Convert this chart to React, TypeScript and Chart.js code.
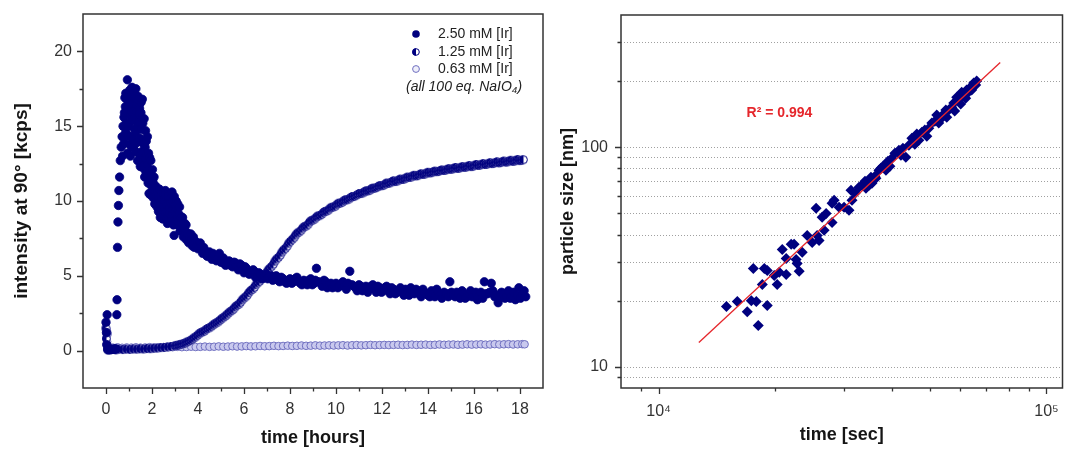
import React, { useEffect, useRef } from 'react';
import { Chart, registerables } from 'chart.js';

Chart.register(...registerables);

const FONT = "'Liberation Sans', Arial, Helvetica, sans-serif";
const NAVY = '#00007f';
const LAVENDER = '#7070c0';
const RED = '#e5262b';
const AXIS = '#333333';

// ---------- left panel: time [hours] vs intensity at 90° [kcps] ----------
const series250: [number, number][] = [
  [0.0, 1.9], [0.02, 1.2], [0.03, 0.4], [0.05, 2.4], [0.07, 0.1], [0.1, 0.05], [0.15, 0.1], [0.2, 0.05],
  [0.25, 0.1], [0.3, 0.08], [0.35, 0.1], [0.4, 0.12], [0.45, 0.1],
  [0.47, 2.4], [0.48, 3.4], [0.5, 6.9], [0.52, 8.6], [0.54, 9.7], [0.56, 10.7], [0.59, 11.6], [0.62, 12.7],
  [0.66, 13.6], [0.7, 14.3], [0.74, 15.0], [0.78, 15.6], [0.84, 16.3], [0.88, 15.2], [0.9, 16.8], [0.93, 18.1],
  [0.96, 17.0], [0.98, 15.0], [1.0, 16.4], [1.03, 17.4], [1.07, 14.3], [1.1, 16.0], [1.13, 17.6], [1.17, 15.4],
  [1.2, 16.9], [1.24, 14.8], [1.27, 16.2], [1.3, 17.5], [1.34, 13.9], [1.37, 12.7], [1.4, 16.8], [1.44, 15.3],
  [1.48, 14.2], [1.52, 15.9], [1.55, 13.3], [1.58, 16.8], [1.62, 12.2], [1.66, 15.5], [1.68, 11.6], [1.72, 14.7],
  [1.76, 13.1], [1.8, 14.3], [1.83, 11.2], [1.87, 10.5], [1.9, 12.9], [1.95, 12.7], [1.98, 11.0], [2.02, 12.1],
  [2.06, 10.2], [2.09, 11.6], [2.12, 9.8], [2.16, 11.0], [2.2, 10.0], [2.24, 10.6], [2.28, 9.3], [2.32, 10.8],
  [2.36, 8.9], [2.4, 10.2], [2.44, 9.4], [2.48, 10.5], [2.53, 10.1], [2.57, 9.0], [2.62, 9.8], [2.67, 8.5],
  [2.7, 10.3], [2.75, 9.2], [2.8, 9.9], [2.85, 8.7], [2.9, 10.0], [2.96, 7.7], [2.98, 9.6], [3.03, 8.8],
  [3.08, 9.5], [3.13, 8.4], [3.18, 9.1], [3.22, 8.0], [3.26, 8.3], [3.3, 8.9], [3.36, 7.6], [3.4, 8.2],
  [3.46, 7.9], [3.5, 7.4], [3.55, 7.8], [3.6, 7.2], [3.69, 7.8], [3.75, 7.0], [3.84, 6.9], [3.9, 7.3],
  [4.0, 6.8], [4.1, 7.2], [4.13, 6.9], [4.2, 6.5], [4.3, 6.7], [4.4, 6.3], [4.5, 6.6], [4.6, 6.1],
  [4.7, 6.4], [4.8, 6.0], [4.93, 6.5], [5.0, 5.9], [5.1, 6.2], [5.2, 5.7], [5.35, 6.0], [5.5, 5.6],
  [5.6, 5.9], [5.75, 5.4], [5.9, 5.7], [6.0, 5.2], [6.1, 5.5], [6.23, 5.1], [6.4, 5.4], [6.5, 4.9],
  [6.65, 5.2], [6.8, 4.8], [6.97, 5.1], [7.1, 4.9], [7.25, 4.7], [7.4, 5.0], [7.55, 4.6], [7.7, 4.8],
  [7.85, 4.5], [8.0, 4.8], [8.15, 4.6], [8.3, 4.9], [8.45, 4.5], [8.6, 4.7], [8.75, 4.4], [8.9, 4.8],
  [9.05, 4.5], [9.15, 5.5], [9.25, 4.6], [9.4, 4.3], [9.55, 4.6], [9.7, 4.4], [9.85, 4.2], [10.0, 4.5],
  [10.15, 4.3], [10.3, 4.6], [10.45, 4.1], [10.6, 5.3], [10.7, 4.4], [10.85, 4.2], [11.0, 4.4], [11.15, 4.0],
  [11.3, 4.3], [11.45, 4.1], [11.6, 4.4], [11.75, 3.9], [11.9, 4.2], [12.05, 4.0], [12.2, 4.3], [12.35, 3.8],
  [12.5, 4.1], [12.65, 3.9], [12.8, 4.2], [12.95, 3.7], [13.1, 4.0], [13.25, 4.2], [13.4, 3.8], [13.55, 4.0],
  [13.7, 3.6], [13.85, 3.9], [14.0, 3.7], [14.15, 4.0], [14.3, 3.6], [14.45, 3.9], [14.6, 3.5], [14.8, 3.8],
  [14.95, 4.6], [15.1, 3.7], [15.25, 3.9], [15.4, 3.5], [15.55, 3.8], [15.7, 3.6], [15.85, 4.0], [16.0, 3.7],
  [16.15, 3.4], [16.3, 3.9], [16.45, 4.6], [16.6, 3.8], [16.75, 4.5], [16.9, 3.6], [17.05, 3.2], [17.2, 3.9],
  [17.35, 3.5], [17.5, 4.0], [17.65, 3.7], [17.8, 3.4], [17.95, 4.2], [18.1, 3.8], [18.25, 3.6],
  [0.8, 14.2], [0.82, 16.9], [0.86, 14.6], [0.92, 16.0], [0.95, 14.4], [1.01, 13.8], [1.05, 15.7], [1.08, 16.8],
  [1.12, 13.6], [1.15, 16.6], [1.19, 14.1], [1.22, 17.2], [1.26, 15.6], [1.29, 13.3], [1.32, 16.4], [1.36, 15.0],
  [1.39, 17.0], [1.42, 14.0], [1.46, 16.2], [1.5, 13.0], [1.54, 14.8], [1.57, 12.6], [1.6, 15.2], [1.64, 13.8],
  [1.7, 12.9], [1.74, 11.9], [1.78, 12.4], [1.85, 13.2], [1.92, 11.4], [2.0, 10.6], [2.04, 11.3], [2.14, 10.5],
  [2.22, 9.6], [2.3, 9.9], [2.38, 9.8], [2.46, 8.8], [2.55, 9.5], [2.6, 10.4], [2.65, 9.3], [2.72, 8.9],
  [2.78, 9.5], [2.83, 10.2], [2.88, 9.1], [2.93, 8.4], [3.0, 9.2], [3.05, 10.0], [3.1, 8.9], [3.16, 8.6],
  [3.2, 9.6], [3.28, 8.6], [3.33, 8.9], [3.43, 8.5], [3.52, 7.9],
  [0.72, 13.0], [0.76, 13.8], [0.8, 15.9], [0.86, 17.2], [0.94, 13.2], [1.0, 15.2], [1.06, 13.0], [1.1, 17.0],
  [1.16, 14.2], [1.2, 13.6], [1.25, 17.0], [1.3, 14.6], [1.35, 16.0], [1.41, 13.2], [1.45, 15.8], [1.49, 12.3],
  [1.53, 16.6], [1.6, 14.0], [1.65, 12.4], [1.7, 13.6], [1.75, 14.0], [1.8, 12.0], [1.88, 12.0], [1.94, 10.4],
  [2.0, 11.6], [2.08, 10.8], [2.18, 10.3], [2.26, 10.2], [2.34, 9.6], [2.42, 10.6], [2.5, 9.6], [2.58, 10.7],
  [2.64, 8.9], [2.74, 9.8], [2.82, 9.3], [2.87, 10.6], [2.92, 9.4], [2.97, 10.3], [3.02, 9.7], [3.12, 9.8],
  [3.24, 8.8], [3.38, 8.2], [3.48, 8.4], [3.62, 7.6], [3.72, 7.4], [3.8, 7.6], [3.95, 7.0],
  [4.05, 7.0], [4.25, 6.9], [4.35, 6.4], [4.55, 6.3], [4.65, 6.5], [4.75, 6.1], [4.87, 6.2], [5.05, 6.1],
  [5.15, 5.8], [5.27, 5.9], [5.42, 5.7], [5.55, 5.9], [5.68, 5.6], [5.82, 5.8], [5.95, 5.4], [6.05, 5.6],
  [6.17, 5.3], [6.3, 5.2], [6.45, 5.3], [6.58, 5.0], [6.72, 5.1], [6.88, 5.0], [7.03, 4.8], [7.18, 5.0],
  [7.32, 4.8], [7.48, 4.7], [7.62, 4.9], [7.78, 4.6], [7.92, 4.7], [8.08, 4.5], [8.22, 4.8], [8.38, 4.6],
  [8.52, 4.4], [8.68, 4.6], [8.82, 4.7], [8.97, 4.4], [9.1, 4.7], [9.33, 4.5], [9.48, 4.7], [9.62, 4.2],
  [9.78, 4.5], [9.92, 4.4], [10.08, 4.2], [10.22, 4.4], [10.38, 4.3], [10.52, 4.5], [10.78, 4.3], [10.92, 4.0],
  [11.08, 4.3], [11.22, 4.2], [11.38, 3.9], [11.52, 4.3], [11.68, 4.1], [11.82, 4.3], [11.98, 3.9], [12.12, 4.2],
  [12.28, 4.0], [12.42, 4.2], [12.58, 3.8], [12.72, 4.0], [12.88, 3.9], [13.02, 4.1], [13.18, 3.7], [13.32, 3.9],
  [13.48, 4.1], [13.62, 3.8], [13.78, 4.1], [13.92, 3.8], [14.08, 3.6], [14.22, 3.8], [14.38, 4.1], [14.52, 3.7],
  [14.7, 3.9], [14.88, 3.6], [15.02, 3.9], [15.18, 3.6], [15.32, 3.8], [15.48, 4.0], [15.62, 3.5], [15.78, 3.8],
  [15.92, 3.6], [16.08, 3.9], [16.22, 3.6], [16.38, 3.5], [16.52, 3.8], [16.68, 3.9], [16.82, 4.0], [16.98, 3.7],
  [17.12, 3.6], [17.28, 3.8], [17.42, 3.6], [17.58, 3.5], [17.72, 3.9], [17.88, 3.7], [18.02, 3.5], [18.18, 4.0],
];

const series125: [number, number][] = [
  [0.0, 1.5], [0.02, 0.8], [0.04, 1.2], [0.06, 0.35], [0.08, 0.05], [0.15, 0.06], [0.3, 0.08], [0.45, 0.05],
  [0.6, 0.1], [0.75, 0.07], [0.9, 0.1], [1.05, 0.08], [1.2, 0.11], [1.35, 0.1], [1.5, 0.12], [1.65, 0.11],
  [1.8, 0.14], [1.95, 0.13], [2.1, 0.16], [2.25, 0.17], [2.4, 0.2], [2.55, 0.21], [2.7, 0.25], [2.85, 0.27],
  [3.0, 0.32], [3.15, 0.36], [3.3, 0.43], [3.45, 0.5], [3.6, 0.62], [3.75, 0.75], [3.9, 0.92], [4.05, 1.12],
  [4.2, 1.25], [4.35, 1.4], [4.5, 1.52], [4.65, 1.7], [4.8, 1.85], [4.95, 2.02], [5.1, 2.2], [5.25, 2.38],
  [5.4, 2.6], [5.55, 2.78], [5.7, 3.02], [5.85, 3.22], [6.0, 3.5], [6.15, 3.72], [6.3, 4.02], [6.45, 4.22],
  [6.6, 4.52], [6.75, 4.78], [6.9, 5.02], [7.05, 5.38], [7.2, 5.62], [7.35, 5.98], [7.5, 6.22], [7.65, 6.58],
  [7.8, 6.82], [7.95, 7.18], [8.1, 7.42], [8.25, 7.72], [8.4, 7.92], [8.55, 8.18], [8.7, 8.32], [8.85, 8.58],
  [9.0, 8.72], [9.15, 8.92], [9.3, 9.02], [9.45, 9.22], [9.6, 9.32], [9.75, 9.52], [9.9, 9.6], [10.05, 9.78],
  [10.2, 9.86], [10.35, 10.02], [10.5, 10.08], [10.65, 10.24], [10.8, 10.3], [10.95, 10.44], [11.1, 10.5], [11.25, 10.62],
  [11.4, 10.68], [11.55, 10.82], [11.7, 10.86], [11.85, 10.98], [12.0, 11.02], [12.15, 11.14], [12.3, 11.18], [12.45, 11.3],
  [12.6, 11.3], [12.75, 11.42], [12.9, 11.44], [13.05, 11.54], [13.2, 11.58], [13.35, 11.68], [13.5, 11.68], [13.65, 11.78],
  [13.8, 11.78], [13.95, 11.88], [14.1, 11.88], [14.25, 11.96], [14.4, 11.96], [14.55, 12.04], [14.7, 12.04], [14.85, 12.12],
  [15.0, 12.12], [15.15, 12.2], [15.3, 12.18], [15.45, 12.26], [15.6, 12.25], [15.75, 12.33], [15.9, 12.3], [16.05, 12.4],
  [16.2, 12.38], [16.35, 12.46], [16.5, 12.44], [16.65, 12.52], [16.8, 12.5], [16.95, 12.58], [17.1, 12.55], [17.25, 12.63],
  [17.4, 12.6], [17.55, 12.68], [17.7, 12.65], [17.85, 12.73], [18.0, 12.7], [18.15, 12.76],
  [3.08, 0.35], [3.22, 0.4], [3.38, 0.47], [3.52, 0.57], [3.68, 0.68], [3.82, 0.84], [3.98, 1.02], [4.12, 1.2],
  [4.28, 1.3], [4.42, 1.48], [4.58, 1.6], [4.72, 1.78], [4.88, 1.92], [5.02, 2.12], [5.18, 2.3], [5.32, 2.5],
  [5.48, 2.68], [5.62, 2.92], [5.78, 3.1], [5.92, 3.38], [6.08, 3.6], [6.22, 3.88], [6.38, 4.1], [6.52, 4.4],
  [6.68, 4.62], [6.82, 4.92], [6.98, 5.2], [7.12, 5.5], [7.28, 5.78], [7.42, 6.12], [7.58, 6.38], [7.72, 6.72],
  [7.88, 6.98], [8.02, 7.3], [8.18, 7.55], [8.32, 7.85], [8.48, 8.02], [8.62, 8.28], [8.78, 8.42], [8.92, 8.68],
  [9.08, 8.8], [9.22, 9.0], [9.38, 9.1], [9.52, 9.3], [9.68, 9.4], [9.82, 9.58], [9.98, 9.66], [10.12, 9.85],
  [10.28, 9.92], [10.42, 10.08], [10.58, 10.14], [10.72, 10.3], [10.88, 10.36], [11.02, 10.5], [11.18, 10.54], [11.32, 10.68],
  [11.48, 10.72], [11.62, 10.86], [11.78, 10.9], [11.92, 11.03], [12.08, 11.05], [12.22, 11.2], [12.38, 11.22], [12.52, 11.35],
  [12.68, 11.34], [12.82, 11.47], [12.98, 11.47], [13.12, 11.6], [13.28, 11.6], [13.42, 11.72], [13.58, 11.7], [13.72, 11.82],
  [13.88, 11.8], [14.02, 11.92], [14.18, 11.9], [14.32, 12.0], [14.48, 11.98], [14.62, 12.08], [14.78, 12.06], [14.92, 12.16],
  [15.08, 12.14], [15.22, 12.24], [15.38, 12.2], [15.52, 12.3], [15.68, 12.27], [15.82, 12.37], [15.98, 12.33], [16.12, 12.44],
  [16.28, 12.4], [16.42, 12.5], [16.58, 12.46], [16.72, 12.56], [16.88, 12.52], [17.02, 12.62], [17.18, 12.57], [17.32, 12.67],
  [17.48, 12.62], [17.62, 12.72], [17.78, 12.67], [17.92, 12.77], [18.08, 12.72],
];

const series063: [number, number][] = [
  [0.0, 1.8], [0.02, 0.9], [0.03, 1.4], [0.05, 0.6], [0.07, 1.1], [0.1, 0.25], [0.3, 0.2], [0.5, 0.22],
  [0.7, 0.19], [0.9, 0.21], [1.1, 0.2], [1.3, 0.22], [1.5, 0.2], [1.7, 0.21], [1.9, 0.23], [2.1, 0.21],
  [2.3, 0.22], [2.5, 0.24], [2.7, 0.22], [2.9, 0.23], [3.1, 0.25], [3.3, 0.23], [3.5, 0.24], [3.7, 0.26],
  [3.9, 0.24], [4.1, 0.25], [4.3, 0.27], [4.5, 0.25], [4.7, 0.26], [4.9, 0.28], [5.1, 0.26], [5.3, 0.27],
  [5.5, 0.29], [5.7, 0.27], [5.9, 0.28], [6.1, 0.3], [6.3, 0.28], [6.5, 0.29], [6.7, 0.31], [6.9, 0.29],
  [7.1, 0.3], [7.3, 0.32], [7.5, 0.3], [7.7, 0.31], [7.9, 0.33], [8.1, 0.31], [8.3, 0.32], [8.5, 0.34],
  [8.7, 0.32], [8.9, 0.33], [9.1, 0.35], [9.3, 0.33], [9.5, 0.34], [9.7, 0.35], [9.9, 0.34], [10.1, 0.35],
  [10.3, 0.36], [10.5, 0.34], [10.7, 0.36], [10.9, 0.37], [11.1, 0.35], [11.3, 0.36], [11.5, 0.38], [11.7, 0.36],
  [11.9, 0.37], [12.1, 0.38], [12.3, 0.37], [12.5, 0.38], [12.7, 0.39], [12.9, 0.37], [13.1, 0.38], [13.3, 0.4],
  [13.5, 0.38], [13.7, 0.39], [13.9, 0.4], [14.1, 0.38], [14.3, 0.39], [14.5, 0.41], [14.7, 0.39], [14.9, 0.4],
  [15.1, 0.41], [15.3, 0.39], [15.5, 0.4], [15.7, 0.42], [15.9, 0.4], [16.1, 0.41], [16.3, 0.42], [16.5, 0.4],
  [16.7, 0.41], [16.9, 0.43], [17.1, 0.41], [17.3, 0.42], [17.5, 0.43], [17.7, 0.41], [17.9, 0.42], [18.1, 0.43],
  [18.2, 0.42],
];

const legendLabels = ['2.50 mM [Ir]', '1.25 mM [Ir]', '0.63 mM [Ir]'];
const legendNote = '(all 100 eq. NaIO\u2084)';
const hourTicks = [0, 2, 4, 6, 8, 10, 12, 14, 16, 18];
const hourMinorTicks = [1, 3, 5, 7, 9, 11, 13, 15, 17];
const kcpsTicks = [0, 5, 10, 15, 20];
const kcpsMinorTicks = [2.5, 7.5, 12.5, 17.5];

// ---------- right panel: time [sec] vs particle size [nm] (log-log) ----------
const particles: [number, number][] = [
  [14960, 18.8], [15960, 19.8], [16930, 17.8], [17340, 20.0], [17860, 19.8], [18070, 15.4], [19060, 19.0],
  [17550, 28.0], [18510, 23.7], [18730, 28.0], [19060, 27.4], [20220, 23.7], [19870, 26.0], [20470, 26.9],
  [21330, 26.3], [23040, 27.2], [20840, 34.2], [21330, 31.1], [21970, 36.1], [22360, 36.1], [22630, 30.8],
  [22760, 29.5], [23460, 33.2], [24160, 39.6], [24890, 36.8], [25630, 39.6], [25480, 52.7], [26400, 47.9],
  [27040, 49.9], [28010, 55.5], [26720, 41.8], [25930, 37.6], [28010, 45.4], [28350, 57.3], [29200, 53.2],
  [30070, 53.2], [30970, 51.6], [31340, 63.6], [31530, 57.3], [32100, 61.7], [32860, 65.7], [33450, 67.1],
  [34060, 69.9], [34240, 65.0], [34870, 67.1], [35280, 73.0], [35490, 68.5], [36130, 73.7], [36340, 72.2],
  [37000, 78.5], [37440, 80.2], [37880, 81.9], [38560, 78.5], [39020, 86.3], [39480, 81.9], [39950, 89.1],
  [40670, 93.9], [41650, 96.9], [42150, 91.9], [42650, 98.9], [43400, 90.0], [44190, 102], [44980, 109.9],
  [45780, 103.2], [46320, 114.7], [46880, 107.6], [47730, 117], [48580, 119.6], [49150, 112.2], [49740, 122.1],
  [50630, 128.7], [51540, 131.4], [52140, 140], [52760, 128.7], [53720, 135.7], [54350, 141.5], [55020, 147.6],
  [55340, 137], [55990, 147.6], [57000, 152], [57670, 158.8], [58010, 146.0], [58700, 169], [59400, 163.9],
  [60100, 157.2], [60460, 178], [61180, 172.8], [61910, 167], [62270, 182], [63030, 178.3], [63780, 188],
  [64160, 182.1], [64920, 196], [65700, 191.9], [66090, 200.2],
];
const fitTime = [12700, 76000];
const fitSize = [12.9, 243];
const r2Text = 'R\u00b2 = 0.994';
const r2Anchor = { x: 20500, y: 143 };
const secTicks = [10000, 100000];
const secTickLabels = ['10\u2074', '10\u2075'];
const secMinorTicks = [9000, 20000, 30000, 40000, 50000, 60000, 70000, 80000, 90000];
const nmTicks = [10, 100];
const nmTickLabels = ['10', '100'];
const nmMinorTicks = [9, 20, 30, 40, 50, 60, 70, 80, 90, 200, 300];
const nmGridLines = [9, 10, 20, 30, 40, 50, 60, 70, 80, 90, 100, 200, 300];

type FrameSpec = { xMajor: number[]; xMinor: number[]; yMajor: number[]; yMinor: number[]; yGrid?: number[] };

function framePlugin(spec: FrameSpec) {
  return {
    id: 'frame',
    beforeDatasetsDraw(chart: any) {
      if (!spec.yGrid) return;
      const { ctx, chartArea: a } = chart;
      const sy = chart.scales.y;
      ctx.save();
      ctx.strokeStyle = '#a0a0a0';
      ctx.lineWidth = 1;
      ctx.setLineDash([1, 2]);
      for (const v of spec.yGrid) {
        const p = Math.round(sy.getPixelForValue(v)) + 0.5;
        ctx.beginPath();
        ctx.moveTo(a.left, p);
        ctx.lineTo(a.right, p);
        ctx.stroke();
      }
      ctx.restore();
    },
    afterDraw(chart: any) {
      const { ctx, chartArea: a } = chart;
      const sx = chart.scales.x;
      const sy = chart.scales.y;
      ctx.save();
      ctx.setLineDash([]);
      ctx.strokeStyle = AXIS;
      ctx.lineWidth = 1.3;
      ctx.beginPath();
      const xt = (vals: number[], len: number) =>
        vals.forEach((v) => {
          const p = Math.round(sx.getPixelForValue(v)) + 0.5;
          ctx.moveTo(p, a.bottom);
          ctx.lineTo(p, a.bottom + len);
        });
      const yt = (vals: number[], len: number) =>
        vals.forEach((v) => {
          const p = Math.round(sy.getPixelForValue(v)) + 0.5;
          ctx.moveTo(a.left, p);
          ctx.lineTo(a.left - len, p);
        });
      xt(spec.xMajor, 6);
      xt(spec.xMinor, 3.5);
      yt(spec.yMajor, 6);
      yt(spec.yMinor, 3.5);
      ctx.stroke();
      ctx.lineWidth = 1.5;
      ctx.strokeRect(a.left, a.top, a.right - a.left, a.bottom - a.top);
      ctx.restore();
    },
  };
}

function makeHalfMarker(r: number) {
  const s = Math.ceil(2 * r + 2);
  const c = document.createElement('canvas');
  c.width = s;
  c.height = s;
  const g = c.getContext('2d')!;
  const m = s / 2;
  g.fillStyle = '#ffffff';
  g.beginPath();
  g.arc(m, m, r, 0, Math.PI * 2);
  g.fill();
  g.fillStyle = NAVY;
  g.beginPath();
  g.moveTo(m, m);
  g.arc(m, m, r, Math.PI / 2, Math.PI * 1.5);
  g.closePath();
  g.fill();
  g.strokeStyle = NAVY;
  g.lineWidth = 1;
  g.beginPath();
  g.arc(m, m, r - 0.5, 0, Math.PI * 2);
  g.stroke();
  return c;
}

const byTime = (pts: [number, number][]) => pts.slice().sort((p, q) => p[0] - q[0]).map(([x, y]) => ({ x, y }));

const tickFont = { family: FONT, size: 16 };

function titleOpt(text: string, size: number, padding: any) {
  return {
    display: true,
    text,
    color: '#151515',
    font: { family: FONT, size, weight: 'bold' as const, lineHeight: 1 },
    padding,
  };
}

export default function App() {
  const leftRef = useRef<HTMLCanvasElement>(null);
  const rightRef = useRef<HTMLCanvasElement>(null);

  useEffect(() => {
    const half = makeHalfMarker(4.4);
    const halfLegend = makeHalfMarker(3.8);

    const legendPlugin = {
      id: 'legendBox',
      afterDatasetsDraw(chart: any) {
        const { ctx, chartArea: a } = chart;
        const mx = a.right - 127;
        const tx = a.right - 105;
        const rows = [a.top + 20, a.top + 38, a.top + 55];
        ctx.save();
        ctx.font = `14px ${FONT}`;
        ctx.fillStyle = '#222';
        ctx.textBaseline = 'middle';
        ctx.textAlign = 'left';
        legendLabels.forEach((lab, i) => {
          const y = rows[i];
          if (i === 0) {
            ctx.beginPath();
            ctx.arc(mx, y, 3.8, 0, Math.PI * 2);
            ctx.fillStyle = NAVY;
            ctx.fill();
          } else if (i === 1) {
            ctx.drawImage(halfLegend, mx - halfLegend.width / 2, y - halfLegend.height / 2);
          } else {
            ctx.beginPath();
            ctx.arc(mx, y, 3.4, 0, Math.PI * 2);
            ctx.fillStyle = '#eeeefa';
            ctx.fill();
            ctx.strokeStyle = LAVENDER;
            ctx.lineWidth = 1;
            ctx.stroke();
          }
          ctx.fillStyle = '#222';
          ctx.fillText(lab, tx, y);
        });
        ctx.font = `italic 14px ${FONT}`;
        ctx.fillText(legendNote, a.right - 137, a.top + 73);
        ctx.restore();
      },
    };

    const left = new Chart(leftRef.current!, {
      type: 'scatter',
      data: {
        datasets: [
          {
            label: legendLabels[0],
            data: byTime(series250),
            pointRadius: 4.2,
            pointBackgroundColor: NAVY,
            pointBorderColor: NAVY,
            pointBorderWidth: 0.8,
          },
          {
            label: legendLabels[1],
            data: byTime(series125),
            pointStyle: half as any,
            pointRadius: 4.4,
          },
          {
            label: legendLabels[2],
            data: byTime(series063),
            pointRadius: 3.8,
            pointBackgroundColor: '#c9c9ee',
            pointBorderColor: LAVENDER,
            pointBorderWidth: 1,
          },
        ],
      },
      options: {
        animation: false,
        responsive: false,
        devicePixelRatio: 1,
        events: [],
        layout: { padding: { top: 14, right: 12, left: 0, bottom: 0 } },
        plugins: { legend: { display: false }, tooltip: { enabled: false } },
        scales: {
          x: {
            type: 'linear',
            min: -1,
            max: 19,
            afterBuildTicks: (s: any) => {
              s.ticks = hourTicks.map((v) => ({ value: v }));
            },
            afterFit: (s: any) => {
              s.height = 61;
              s.paddingLeft = 0;
              s.paddingRight = 0;
            },
            grid: { display: false, drawTicks: false },
            border: { display: false },
            ticks: {
              autoSkip: false,
              maxRotation: 0,
              padding: 12,
              color: AXIS,
              font: tickFont,
              callback: (v: any) => String(v),
            },
            title: titleOpt('time [hours]', 18, { top: 0, bottom: 2 }),
          },
          y: {
            type: 'linear',
            min: -2.5,
            max: 22.5,
            afterBuildTicks: (s: any) => {
              s.ticks = kcpsTicks.map((v) => ({ value: v }));
            },
            afterFit: (s: any) => {
              s.width = 83;
              s.paddingTop = 0;
              s.paddingBottom = 0;
            },
            grid: { display: false, drawTicks: false },
            border: { display: false },
            ticks: {
              autoSkip: false,
              padding: 11,
              color: AXIS,
              font: tickFont,
              callback: (v: any) => String(v),
            },
            title: titleOpt('intensity at 90\u00b0 [kcps]', 19, { top: 12, bottom: 0 }),
          },
        },
      },
      plugins: [
        framePlugin({ xMajor: hourTicks, xMinor: hourMinorTicks, yMajor: kcpsTicks, yMinor: kcpsMinorTicks }),
        legendPlugin,
      ],
    } as any);

    const r2Plugin = {
      id: 'r2',
      afterDatasetsDraw(chart: any) {
        const { ctx } = chart;
        const x = chart.scales.x.getPixelForValue(r2Anchor.x);
        const y = chart.scales.y.getPixelForValue(r2Anchor.y);
        ctx.save();
        ctx.font = `bold 14px ${FONT}`;
        ctx.fillStyle = RED;
        ctx.textAlign = 'center';
        ctx.textBaseline = 'middle';
        ctx.fillText(r2Text, x, y);
        ctx.restore();
      },
    };

    const right = new Chart(rightRef.current!, {
      type: 'scatter',
      data: {
        datasets: [
          {
            label: 'fit',
            data: fitTime.map((t, i) => ({ x: t, y: fitSize[i] })),
            showLine: true,
            borderColor: RED,
            borderWidth: 1.3,
            pointRadius: 0,
            fill: false,
          },
          {
            label: 'particle size',
            data: particles.map(([x, y]) => ({ x, y })),
            pointStyle: 'rectRot',
            pointRadius: 5.5,
            pointBackgroundColor: NAVY,
            pointBorderColor: NAVY,
            pointBorderWidth: 0,
          },
        ],
      },
      options: {
        animation: false,
        responsive: false,
        devicePixelRatio: 1,
        events: [],
        layout: { padding: { top: 15, right: 4, left: 0, bottom: 0 } },
        plugins: { legend: { display: false }, tooltip: { enabled: false } },
        scales: {
          x: {
            type: 'logarithmic',
            min: 8000,
            max: 110000,
            afterBuildTicks: (s: any) => {
              s.ticks = secTicks.map((v) => ({ value: v }));
            },
            afterFit: (s: any) => {
              s.height = 61;
              s.paddingLeft = 0;
              s.paddingRight = 0;
            },
            grid: { display: false, drawTicks: false },
            border: { display: false },
            ticks: {
              autoSkip: false,
              maxRotation: 0,
              padding: 14,
              color: AXIS,
              font: tickFont,
              callback: (_v: any, i: number) => secTickLabels[i] ?? '',
            },
            title: titleOpt('time [sec]', 18, { top: 0, bottom: 5 }),
          },
          y: {
            type: 'logarithmic',
            min: 8,
            max: 400,
            afterBuildTicks: (s: any) => {
              s.ticks = nmTicks.map((v) => ({ value: v }));
            },
            afterFit: (s: any) => {
              s.width = 66;
              s.paddingTop = 0;
              s.paddingBottom = 0;
            },
            grid: { display: false, drawTicks: false },
            border: { display: false },
            ticks: {
              autoSkip: false,
              padding: 13,
              color: AXIS,
              font: tickFont,
              callback: (_v: any, i: number) => nmTickLabels[i] ?? '',
            },
            title: titleOpt('particle size [nm]', 18, { top: 4, bottom: 0 }),
          },
        },
      },
      plugins: [
        framePlugin({
          xMajor: secTicks,
          xMinor: secMinorTicks,
          yMajor: nmTicks,
          yMinor: nmMinorTicks,
          yGrid: nmGridLines,
        }),
        r2Plugin,
      ],
    } as any);

    return () => {
      left.destroy();
      right.destroy();
    };
  }, []);

  return (
    <div style={{ position: 'fixed', left: 0, top: 0, width: 1068, height: 449, background: '#ffffff' }}>
      <canvas
        ref={leftRef}
        width={555}
        height={449}
        style={{ position: 'absolute', left: 0, top: 0, width: 555, height: 449 }}
      />
      <canvas
        ref={rightRef}
        width={513}
        height={449}
        style={{ position: 'absolute', left: 555, top: 0, width: 513, height: 449 }}
      />
    </div>
  );
}
